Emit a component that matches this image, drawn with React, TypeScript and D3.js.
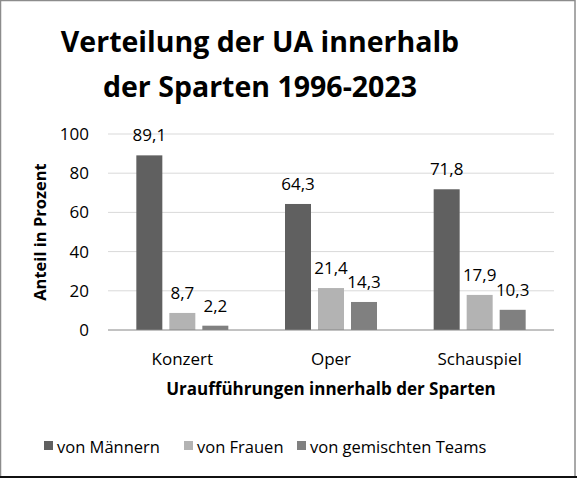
import { useRef, useEffect } from 'react';
import * as d3 from 'd3';

const categories = ['Konzert', 'Oper', 'Schauspiel'];
const seriesNames = ['von Männern', 'von Frauen', 'von gemischten Teams'];
const maenner = [89.1, 64.3, 71.8];
const frauen = [8.7, 21.4, 17.9];
const gemischt = [2.2, 14.3, 10.3];
const yTicks = [0, 20, 40, 60, 80, 100];
const colors = ['#606060', '#b3b3b3', '#808080'];

const W = 577;
const H = 479;
const FONT = '"Open Sans", sans-serif';

export default function App() {
    const svgRef = useRef<SVGSVGElement>(null);

    useEffect(() => {
        if (!svgRef.current) return;
        const svg = d3.select(svgRef.current);
        svg.selectAll('*').remove();

        const series = [maenner, frauen, gemischt];
        const plot = { left: 108, right: 554, top: 134, bottom: 330 };

        const x = d3.scaleBand<string>().domain(categories).range([plot.left, plot.right]).padding(0);
        const inner = d3.scaleBand<string>()
            .domain(seriesNames)
            .range([-46, 46])
            .paddingInner(7 / 33)
            .paddingOuter(0);
        const y = d3.scaleLinear().domain([0, 100]).range([plot.bottom, plot.top]);

        // background + frame
        svg.append('rect').attr('width', W).attr('height', H).attr('fill', '#fff');
        svg.append('rect')
            .attr('x', 0.5).attr('y', 0.5)
            .attr('width', W - 2.5).attr('height', H - 2.5)
            .attr('fill', 'none').attr('stroke', '#8c8c8c').attr('stroke-width', 1.5);
        svg.append('line')
            .attr('x1', 0).attr('x2', W).attr('y1', H - 2).attr('y2', H - 2)
            .attr('stroke', '#111').attr('stroke-width', 2);

        // title
        const title = svg.append('text')
            .attr('text-anchor', 'middle')
            .attr('font-family', FONT)
            .attr('font-weight', 700)
            .attr('font-size', 28.5)
            .attr('fill', '#000');
        title.append('tspan').attr('x', 260).attr('y', 52).text('Verteilung der UA innerhalb');
        title.append('tspan').attr('x', 260).attr('y', 97).text('der Sparten 1996-2023');

        // gridlines
        svg.append('g').selectAll('line')
            .data(yTicks.filter(t => t > 0))
            .enter().append('line')
            .attr('x1', plot.left).attr('x2', plot.right)
            .attr('y1', d => y(d)).attr('y2', d => y(d))
            .attr('stroke', '#d9d9d9').attr('stroke-width', 1);

        // y tick labels
        svg.append('g').selectAll('text')
            .data(yTicks)
            .enter().append('text')
            .attr('x', 89)
            .attr('y', d => y(d) + 6)
            .attr('text-anchor', 'end')
            .attr('font-family', FONT)
            .attr('font-size', 17)
            .attr('fill', '#000')
            .text(d => d);

        // bars
        series.forEach((vals, si) => {
            const g = svg.append('g');
            g.selectAll('rect')
                .data(vals)
                .enter().append('rect')
                .attr('x', (_, i) => x(categories[i])! + x.bandwidth() / 2 + inner(seriesNames[si])!)
                .attr('y', d => y(d))
                .attr('width', inner.bandwidth())
                .attr('height', d => y(0) - y(d))
                .attr('fill', colors[si]);

            g.selectAll('text')
                .data(vals)
                .enter().append('text')
                .attr('x', (_, i) => x(categories[i])! + x.bandwidth() / 2 + inner(seriesNames[si])! + inner.bandwidth() / 2)
                .attr('y', d => y(d) - 14)
                .attr('text-anchor', 'middle')
                .attr('font-family', FONT)
                .attr('font-size', 17)
                .attr('fill', '#000')
                .text(d => d.toFixed(1).replace('.', ','));
        });

        // x axis baseline
        svg.append('line')
            .attr('x1', plot.left).attr('x2', plot.right)
            .attr('y1', y(0)).attr('y2', y(0))
            .attr('stroke', '#868686').attr('stroke-width', 1);

        // category labels
        svg.append('g').selectAll('text')
            .data(categories)
            .enter().append('text')
            .attr('x', d => x(d)! + x.bandwidth() / 2)
            .attr('y', 365)
            .attr('text-anchor', 'middle')
            .attr('font-family', FONT)
            .attr('font-size', 17)
            .attr('fill', '#000')
            .text(d => d);

        // axis titles
        svg.append('text')
            .attr('x', 331).attr('y', 395)
            .attr('text-anchor', 'middle')
            .attr('font-family', FONT)
            .attr('font-weight', 700)
            .attr('font-size', 17)
            .attr('fill', '#000')
            .text('Uraufführungen innerhalb der Sparten');

        svg.append('text')
            .attr('transform', `translate(46, ${(plot.top + plot.bottom) / 2}) rotate(-90)`)
            .attr('text-anchor', 'middle')
            .attr('font-family', FONT)
            .attr('font-weight', 700)
            .attr('font-size', 16.5)
            .attr('fill', '#000')
            .text('Anteil in Prozent');

        // legend
        const legendX = [44, 184, 297];
        const legend = svg.append('g');
        seriesNames.forEach((name, i) => {
            legend.append('rect')
                .attr('x', legendX[i]).attr('y', 441)
                .attr('width', 9).attr('height', 9)
                .attr('fill', colors[i]);
            legend.append('text')
                .attr('x', legendX[i] + 13).attr('y', 453)
                .attr('font-family', FONT)
                .attr('font-size', 16.5)
                .attr('fill', '#000')
                .text(name);
        });
    }, []);

    return (
        <div style={{ position: 'absolute', left: 0, top: 0 }}>
            <svg ref={svgRef} width={W} height={H} style={{ display: 'block' }} />
        </div>
    );
}
